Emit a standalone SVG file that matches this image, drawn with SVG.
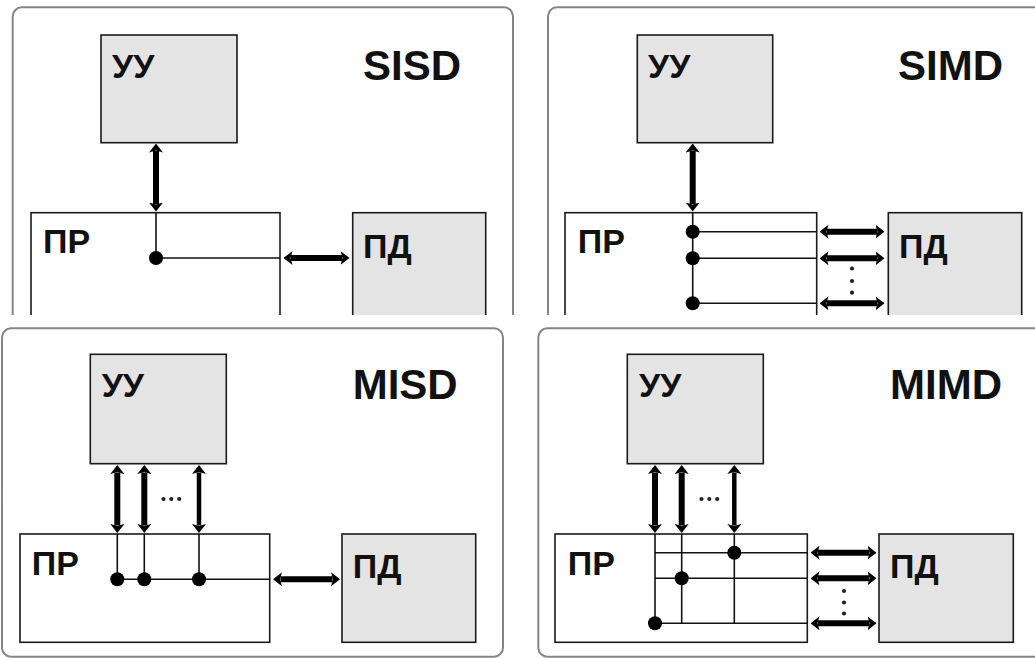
<svg xmlns="http://www.w3.org/2000/svg" width="1035" height="658" viewBox="0 0 1035 658">
<style>
.panel{fill:#fff;stroke:#858585;stroke-width:2}
.grey{fill:#e4e4e4;stroke:#1a1a1a;stroke-width:1.6}
.white{fill:#fff;stroke:#1a1a1a;stroke-width:1.6}
.lbl{font-family:"Liberation Sans",Arial,sans-serif;font-weight:bold;font-size:34px;fill:#111}
.title{font-family:"Liberation Sans",Arial,sans-serif;font-weight:bold;font-size:42px;fill:#111}
.thin{stroke:#111;stroke-width:1.6;fill:none}
.bus{stroke:#000;stroke-width:6;fill:none;marker-start:url(#ah);marker-end:url(#ah)}
.bus2{stroke:#000;stroke-width:4.5;fill:none;marker-start:url(#ah);marker-end:url(#ah)}
.dot{fill:#000}
.sdot{fill:#222}
</style>
<defs>
<marker id="ah" viewBox="0 0 9 14" refX="1.5" refY="7" markerWidth="9" markerHeight="14" markerUnits="userSpaceOnUse" orient="auto-start-reverse">
<path d="M0,0 L9,7 L0,14 L2,7 z" fill="#000"/>
</marker>
<clipPath id="topclip"><rect x="0" y="0" width="1035" height="315"/></clipPath>
</defs>
<rect width="1035" height="658" fill="#fff"/>

<g clip-path="url(#topclip)">
<g id="sisd">
<rect class="panel" x="12.7" y="7.3" width="500.3" height="340" rx="9"/>
<text class="title" x="363" y="80">SISD</text>
<g id="sisd-uu"><rect class="grey" x="101" y="35" width="136" height="107.7"/><text class="lbl" x="112" y="78">УУ</text></g>
<g id="sisd-pr"><rect class="white" x="31" y="212.7" width="249" height="140"/><text class="lbl" x="43" y="253">ПР</text></g>
<g id="sisd-pd"><rect class="grey" x="352.7" y="212.7" width="133" height="140"/><text class="lbl" x="363" y="258">ПД</text></g>
<g id="sisd-connectors">
<line class="bus" x1="156" y1="151" x2="156" y2="204"/>
<path class="thin" d="M156,212.7 V258 H280"/>
<circle class="dot" cx="156" cy="258" r="7"/>
<line class="bus" x1="291" y1="258" x2="342" y2="258"/>
</g>
</g>

<g id="simd">
<rect class="panel" x="548" y="7.3" width="500" height="340" rx="9"/>
<text class="title" x="898" y="80">SIMD</text>
<g id="simd-uu"><rect class="grey" x="637.3" y="35" width="135.4" height="107.7"/><text class="lbl" x="648" y="78">УУ</text></g>
<g id="simd-pr"><rect class="white" x="565" y="212.7" width="251.7" height="140"/><text class="lbl" x="577.7" y="253">ПР</text></g>
<g id="simd-pd"><rect class="grey" x="888.3" y="212.7" width="133.4" height="140"/><text class="lbl" x="899" y="258">ПД</text></g>
<g id="simd-connectors">
<line class="bus" x1="692.7" y1="151" x2="692.7" y2="204"/>
<path class="thin" d="M692.7,212.7 V303.3 M692.7,231.7 H816.7 M692.7,258.3 H816.7 M692.7,303.3 H816.7"/>
<circle class="dot" cx="692.7" cy="231.7" r="7"/>
<circle class="dot" cx="692.7" cy="258.3" r="7"/>
<circle class="dot" cx="692.7" cy="303.3" r="7"/>
<line class="bus" x1="827" y1="231.7" x2="877" y2="231.7"/>
<line class="bus" x1="827" y1="258.3" x2="877" y2="258.3"/>
<line class="bus" x1="827" y1="303.3" x2="877" y2="303.3"/>
<circle class="sdot" cx="852" cy="268.5" r="2.1"/>
<circle class="sdot" cx="852" cy="281" r="2.1"/>
<circle class="sdot" cx="852" cy="292.7" r="2.1"/>
</g>
</g>
</g>

<g id="misd">
<rect class="panel" x="2" y="328.3" width="501" height="328.4" rx="9"/>
<text class="title" x="352.7" y="399.3">MISD</text>
<g id="misd-uu"><rect class="grey" x="90.3" y="354.3" width="136" height="109.4"/><text class="lbl" x="101.7" y="397.3">УУ</text></g>
<g id="misd-pr"><rect class="white" x="20" y="534" width="249.7" height="108.3"/><text class="lbl" x="31.7" y="575">ПР</text></g>
<g id="misd-pd"><rect class="grey" x="342" y="534" width="133.7" height="108.3"/><text class="lbl" x="352.7" y="578">ПД</text></g>
<g id="misd-connectors">
<line class="bus" x1="117.3" y1="472.5" x2="117.3" y2="525.5"/>
<line class="bus" x1="144.3" y1="472.5" x2="144.3" y2="525.5"/>
<line class="bus2" x1="199" y1="472.5" x2="199" y2="525.5"/>
<path class="thin" d="M117.3,534 V579.3 M144.3,534 V579.3 M199,534 V579.3 M117.3,579.3 H269.7"/>
<circle class="dot" cx="117.3" cy="579.3" r="7"/>
<circle class="dot" cx="144.3" cy="579.3" r="7"/>
<circle class="dot" cx="199" cy="579.3" r="7"/>
<line class="bus" x1="280.5" y1="579.3" x2="332.5" y2="579.3"/>
<circle class="sdot" cx="163.5" cy="499" r="2.1"/>
<circle class="sdot" cx="171.3" cy="499" r="2.1"/>
<circle class="sdot" cx="179.2" cy="499" r="2.1"/>
</g>
</g>

<g id="mimd">
<rect class="panel" x="538.3" y="328.3" width="510" height="328.4" rx="9"/>
<text class="title" x="890" y="399.3">MIMD</text>
<g id="mimd-uu"><rect class="grey" x="627.3" y="354.3" width="136" height="109.4"/><text class="lbl" x="639" y="397.3">УУ</text></g>
<g id="mimd-pr"><rect class="white" x="555" y="534" width="252.3" height="108.3"/><text class="lbl" x="567.7" y="575">ПР</text></g>
<g id="mimd-pd"><rect class="grey" x="879" y="534" width="134.3" height="108.3"/><text class="lbl" x="890" y="578">ПД</text></g>
<g id="mimd-connectors">
<line class="bus" x1="655" y1="472.5" x2="655" y2="525.5"/>
<line class="bus" x1="681.7" y1="472.5" x2="681.7" y2="525.5"/>
<line class="bus2" x1="734.3" y1="472.5" x2="734.3" y2="525.5"/>
<path class="thin" d="M655,534 V623.3 M681.7,534 V623.3 M734.3,534 V623.3 M655,552.7 H807.3 M655,578.3 H807.3 M655,623.3 H807.3"/>
<circle class="dot" cx="734.3" cy="552.7" r="7"/>
<circle class="dot" cx="681.7" cy="578.3" r="7"/>
<circle class="dot" cx="655" cy="623.3" r="7"/>
<line class="bus" x1="818" y1="552.7" x2="869" y2="552.7"/>
<line class="bus" x1="818" y1="578.3" x2="869" y2="578.3"/>
<line class="bus" x1="818" y1="623.3" x2="869" y2="623.3"/>
<circle class="sdot" cx="844" cy="591" r="2.1"/>
<circle class="sdot" cx="844" cy="602.5" r="2.1"/>
<circle class="sdot" cx="844" cy="613.5" r="2.1"/>
<circle class="sdot" cx="701.5" cy="499" r="2.1"/>
<circle class="sdot" cx="709.3" cy="499" r="2.1"/>
<circle class="sdot" cx="717.2" cy="499" r="2.1"/>
</g>
</g>
</svg>
